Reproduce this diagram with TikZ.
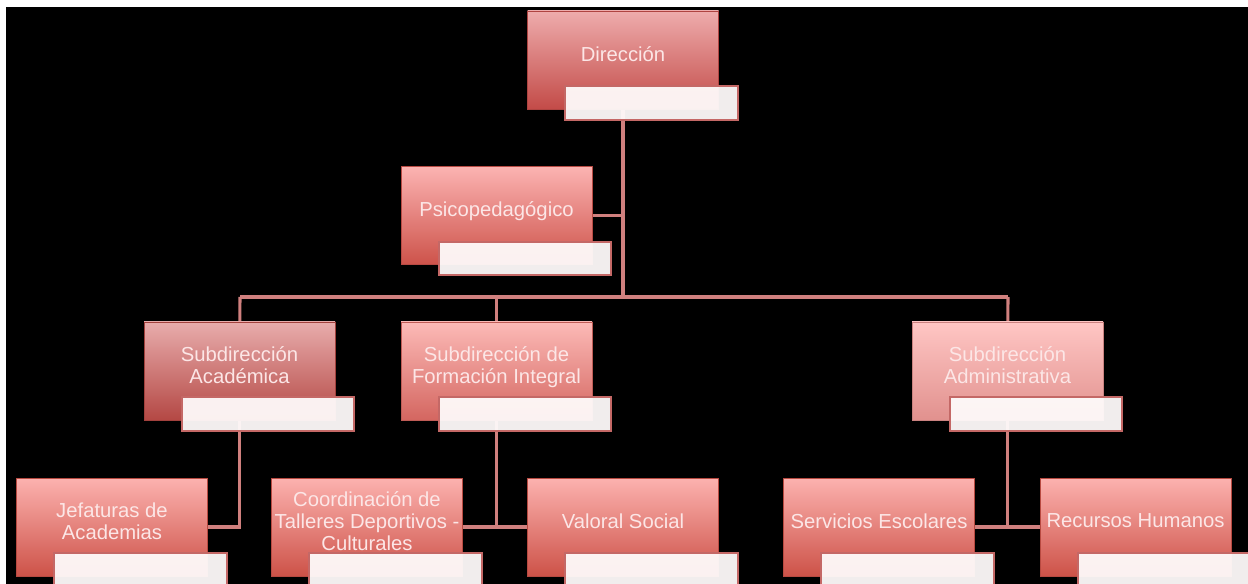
\documentclass[tikz,border=0pt]{standalone}
\usepackage{fontspec}
\setmainfont{Liberation Sans}
\usetikzlibrary{calc}

% palette
\definecolor{linec}{RGB}{208,128,126}
\definecolor{tagedge}{RGB}{196,104,102}
\definecolor{tagfill}{RGB}{254,250,250}
\definecolor{txtc}{RGB}{252,230,230}
\definecolor{dirTop}{RGB}{238,172,172}\definecolor{dirBot}{RGB}{195,75,72}
\definecolor{psiTop}{RGB}{252,180,178}\definecolor{psiBot}{RGB}{205,82,74}
\definecolor{acaTop}{RGB}{232,172,172}\definecolor{acaBot}{RGB}{180,72,68}
\definecolor{forTop}{RGB}{252,186,183}\definecolor{forBot}{RGB}{212,102,96}
\definecolor{admTop}{RGB}{255,198,196}\definecolor{admBot}{RGB}{225,145,142}
\definecolor{lowTop}{RGB}{252,178,175}\definecolor{lowBot}{RGB}{205,82,72}

\tikzset{
  mainbox/.style n args={2}{top color=#1, bottom color=#2,
    draw=#2!90!black, line width=0.3pt,
    minimum width=143.25pt, minimum height=73.5pt, inner sep=0pt},
  tagbox/.style={draw=tagedge, line width=1.6pt, fill=tagfill, fill opacity=0.95,
    minimum width=129.5pt, minimum height=25pt, inner sep=0pt},
  lbl/.style={text=txtc, align=center, inner sep=0pt,
    font=\fontsize{15.2}{16.6}\selectfont},
  conn/.style={draw=linec, line width=2.3pt},
}

\begin{document}
\begin{tikzpicture}[x=0.75pt,y=-0.75pt]
  \useasboundingbox (0,0) rectangle (1248,584);
  \clip (0,0) rectangle (1248,584);
  \fill[white] (0,0) rectangle (1248,584);
  \fill[black] (6,7) rectangle (1248,584);

  % box centres
  \path
    (623,60)     coordinate (dirC)
    (496.5,215.5) coordinate (psiC)
    (239.5,371)  coordinate (acaC)
    (496.5,371)  coordinate (forC)
    (1007.5,371) coordinate (admC)
    (112,527)    coordinate (jefC)
    (367,527)    coordinate (cooC)
    (623,527)    coordinate (valC)
    (879,527)    coordinate (serC)
    (1135.5,527) coordinate (recC);

  % bus junction points
  \coordinate (busM) at (623,297);
  \coordinate (busL) at (240,297);
  \coordinate (busR) at (1008,297);

  % connectors (behind the boxes)
  \draw[conn] (dirC) -- (busM);
  \draw[conn] (psiC) -- (psiC -| busM);
  \draw[conn] (busL) -- (busR);
  \draw[conn] (busL) -- (acaC);
  \draw[conn] (forC |- busL) -- (forC);
  \draw[conn] (busR) -- (admC);
  \draw[conn] (acaC) |- (jefC);
  \draw[conn] (forC) |- (cooC);
  \draw[conn] (forC) |- (valC);
  \draw[conn] (admC) |- (serC);
  \draw[conn] (admC) |- (recC);

  \node[mainbox={dirTop}{dirBot}] (dir) at (dirC) {};
  \node[mainbox={psiTop}{psiBot}] (psi) at (psiC) {};
  \node[mainbox={acaTop}{acaBot}] (aca) at (acaC) {};
  \node[mainbox={forTop}{forBot}] (for) at (forC) {};
  \node[mainbox={admTop}{admBot}] (adm) at (admC) {};
  \node[mainbox={lowTop}{lowBot}] (jef) at (jefC) {};
  \node[mainbox={lowTop}{lowBot}] (coo) at (cooC) {};
  \node[mainbox={lowTop}{lowBot}] (val) at (valC) {};
  \node[mainbox={lowTop}{lowBot}] (ser) at (serC) {};
  \node[mainbox={lowTop}{lowBot}] (rec) at (recC) {};

  % labels
  \node[lbl] (dirT) at ($(dir)+(0,-6)$) {Dirección};
  \node[lbl] (psiT) at ($(psi)+(0,-4)$) {Psicopedagógico};
  \node[lbl] (acaT) at ($(aca)+(0,-6)$) {Subdirección\\Académica};
  \node[lbl] (forT) at ($(for)+(0,-4)$) {Subdirección de\\Formación Integral};
  \node[lbl] (admT) at ($(adm)+(0,-6)$) {Subdirección\\Administrativa};
  \node[lbl] (jefT) at ($(jef)+(0,-6)$) {Jefaturas de\\Academias};
  \node[lbl] (cooT) at ($(coo)+(0,-6)$) {Coordinación de\\Talleres Deportivos -\\Culturales};
  \node[lbl] (valT) at ($(val)+(0,-6)$) {Valoral Social};
  \node[lbl] (serT) at ($(ser)+(0,-6)$) {Servicios Escolares};
  \node[lbl] (recT) at ($(rec)+(0,-6)$) {Recursos Humanos};

  % empty text tabs overlapping each box
  \foreach \b in {dir,psi,aca,for,adm,jef,coo,val,ser,rec}
    \node[tagbox] (\b tag) at ($(\b)+(28.5,43)$) {};
\end{tikzpicture}
\end{document}
